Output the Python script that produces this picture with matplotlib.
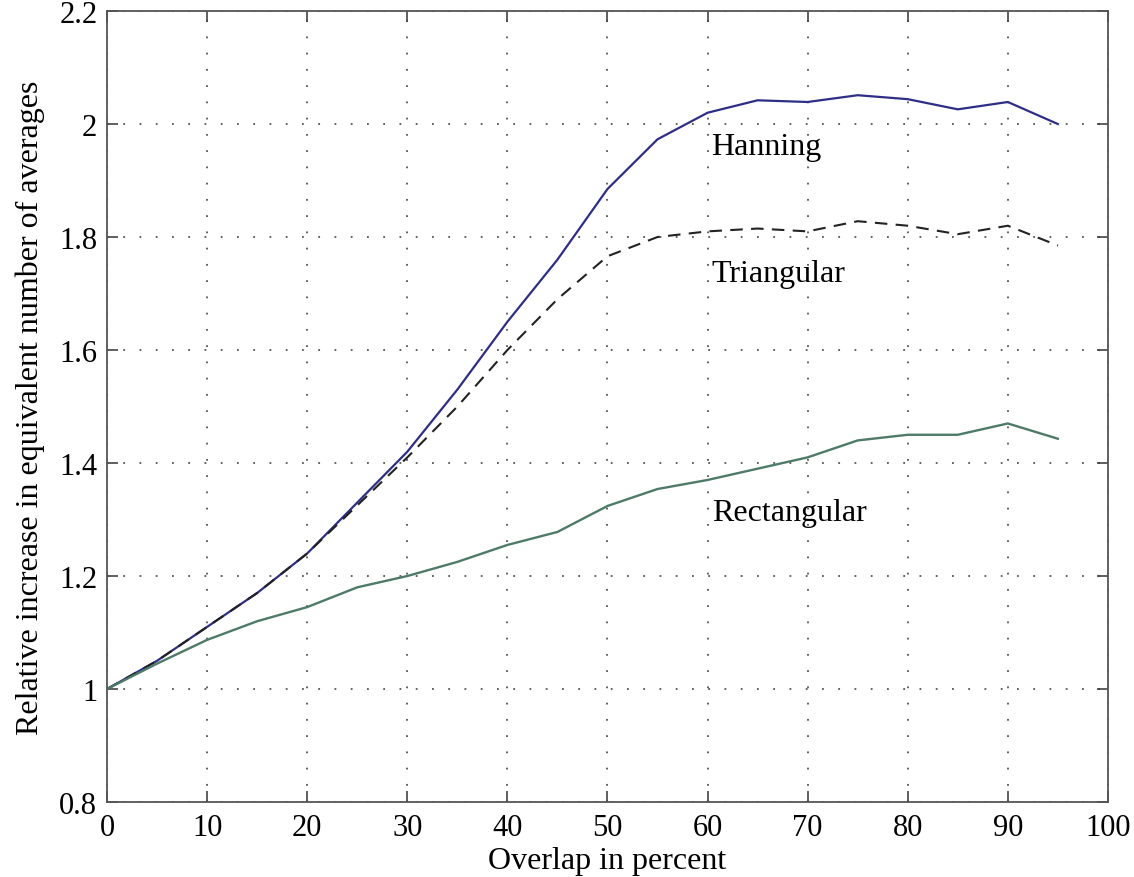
import numpy as np
import matplotlib
matplotlib.use("Agg")
import matplotlib.pyplot as plt

# Data
overlap = [0, 5, 10, 15, 20, 25, 30, 35, 40, 45, 50, 55, 60, 65, 70, 75, 80, 85, 90, 95]
hanning = [1.0, 1.05, 1.11, 1.17, 1.24, 1.33, 1.42, 1.53, 1.65, 1.76, 1.885, 1.973,
           2.02, 2.042, 2.039, 2.051, 2.044, 2.026, 2.039, 2.0]
triangular = [1.0, 1.05, 1.11, 1.17, 1.24, 1.325, 1.41, 1.50, 1.60, 1.69, 1.766, 1.80,
              1.81, 1.815, 1.81, 1.828, 1.82, 1.805, 1.82, 1.785]
rectangular = [1.0, 1.045, 1.087, 1.12, 1.145, 1.18, 1.20, 1.225, 1.255, 1.278, 1.324,
               1.354, 1.37, 1.39, 1.41, 1.44, 1.45, 1.45, 1.47, 1.443]

plt.rcParams['font.family'] = ['Liberation Serif', 'DejaVu Serif']
plt.rcParams['font.size'] = 22

fig = plt.figure(figsize=(11.34, 8.78), dpi=100)
ax = fig.add_axes([0.0944, 0.0854, 0.8826, 0.9009])

ax.plot(overlap, hanning, color='#2e2e86', lw=1.6)
ax.plot(overlap, triangular, color='#222222', lw=1.5, ls=(0, (6, 4)))
ax.plot(overlap, rectangular, color='#4e7a68', lw=1.7)

ax.text(60.4, 1.96, 'Hanning', va='center', ha='left', fontsize=23)
ax.text(60.4, 1.735, 'Triangular', va='center', ha='left', fontsize=23)
ax.text(60.4, 1.313, 'Rectangular', va='center', ha='left', fontsize=23)

ax.set_xlim(0, 100)
ax.set_ylim(0.8, 2.2)
ax.set_xticks(np.arange(0, 101, 10))
ax.set_yticks([0.8, 1.0, 1.2, 1.4, 1.6, 1.8, 2.0, 2.2])
ax.set_yticklabels(['0.8', '1', '1.2', '1.4', '1.6', '1.8', '2', '2.2'])

ax.grid(True, color='#555555', ls=(0, (1, 8)), lw=1.3)
ax.tick_params(direction='in', top=True, right=True, length=8, width=1.2,
               color='#444444', labelsize=22)
ax.tick_params(axis='x', pad=8)
ax.tick_params(axis='y', pad=7)
for s in ax.spines.values():
    s.set_color('#555555')
    s.set_linewidth(1.3)

ax.set_xlabel('Overlap in percent', fontsize=23, labelpad=3)
ax.set_ylabel('Relative increase in equivalent number of averages', fontsize=23, labelpad=10)

fig.savefig('out.png', dpi=100)
